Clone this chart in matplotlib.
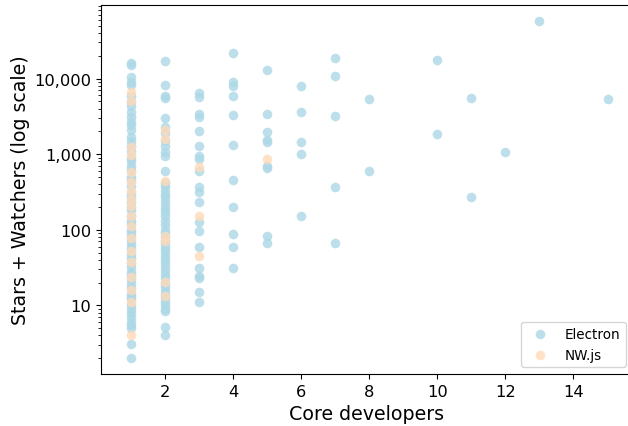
import matplotlib
matplotlib.use("Agg")
import matplotlib.pyplot as plt
from matplotlib.ticker import FuncFormatter, FixedLocator

# Electron: stars + watchers grouped by number of core developers
electron_dev1 = [16300, 14900, 10600, 9100, 8100, 5800, 4900, 4300, 3600, 3100, 2700,
                 2400, 2100, 1700, 1500, 1300, 1100, 900, 800, 700, 620, 500, 450, 380,
                 300, 270, 230, 200, 180, 150, 130, 120, 100, 90, 80, 70, 62, 55, 48, 42,
                 36, 32, 28, 25, 22, 19, 17, 14, 13, 12, 10, 9, 8, 7, 6, 5.5, 5, 3.1, 2.0]
electron_dev2 = [17300, 8100, 5800, 5600, 3000, 2300, 1900, 1500, 1300, 1080, 955, 600,
                 420, 380, 340, 300, 270, 240, 210, 190, 170, 150, 130, 115, 100, 90, 80,
                 72, 65, 58, 52, 46, 41, 37, 33, 29, 26, 23, 20, 18, 16, 14, 12.5, 11, 10,
                 9, 8.5, 5.2, 4.1]
electron_dev3 = [6530, 5780, 3435, 3140, 2050, 1296, 955, 871, 604, 371, 319, 235, 128,
                 97, 60, 31, 24.6, 23.1, 15.1, 11.1]
electron_dev4 = [22100, 9130, 8080, 5960, 3330, 1335, 459, 202, 88.6, 59.6, 31.4]
electron_dev5 = [13150, 3435, 1985, 1557, 1465, 704, 663, 83.4, 67.3]
electron_dev6 = [8080, 3655, 1465, 1016, 153]
electron_dev7 = [18970, 10960, 3240, 371, 67.3]
electron_dev8 = [5430, 603]
electron_dev10 = [17830, 1870]
electron_dev11 = [5600, 273]
electron_dev12 = [1080]
electron_dev13 = [56900]
electron_dev15 = [5430]

# NW.js
nwjs_dev1 = [6730, 5120, 1256, 984, 586, 432, 329, 258, 208, 153, 113, 78, 53, 37.7,
             23.8, 16, 11.1, 4.06]
nwjs_dev2 = [2110, 1600, 445, 83, 71.5, 20.5, 13.4]
nwjs_dev3 = [683, 153, 45]
nwjs_dev5 = [871]

electron_groups = {1: electron_dev1, 2: electron_dev2, 3: electron_dev3, 4: electron_dev4,
                   5: electron_dev5, 6: electron_dev6, 7: electron_dev7, 8: electron_dev8,
                   10: electron_dev10, 11: electron_dev11, 12: electron_dev12,
                   13: electron_dev13, 15: electron_dev15}
nwjs_groups = {1: nwjs_dev1, 2: nwjs_dev2, 3: nwjs_dev3, 5: nwjs_dev5}

def flatten(groups):
    xs, ys = [], []
    for k, vals in groups.items():
        xs += [k] * len(vals)
        ys += vals
    return xs, ys

ex, ey = flatten(electron_groups)
nx, ny = flatten(nwjs_groups)

fig = plt.figure(figsize=(6.28, 4.27), dpi=100)
ax = fig.add_axes([0.161, 0.122, 0.846, 0.864])

ax.scatter(ex, ey, s=48, color="lightblue", alpha=0.8, linewidths=0, label="Electron")
ax.scatter(nx, ny, s=48, color="peachpuff", alpha=0.8, linewidths=0, label="NW.js")

ax.set_yscale("log")
ax.set_ylim(1.24, 94000)
ax.set_xlim(0.13, 15.73)
ax.xaxis.set_major_locator(FixedLocator([2, 4, 6, 8, 10, 12, 14]))
ax.yaxis.set_major_formatter(FuncFormatter(lambda v, p: "{:,.0f}".format(v)))
ax.tick_params(axis="both", labelsize=11.7)

ax.set_xlabel("Core developers", fontsize=13.65)
ax.set_ylabel("Stars + Watchers (log scale)", fontsize=13.65, labelpad=3.5)

ax.legend(loc="lower right", fontsize=9.75, scatterpoints=1)

fig.savefig("out.png", dpi=100)
